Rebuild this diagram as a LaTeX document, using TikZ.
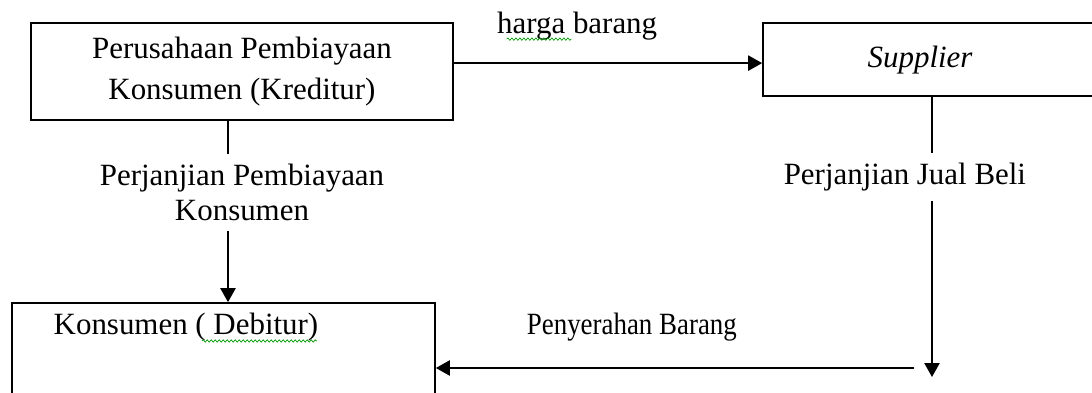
\documentclass[tikz,border=0pt]{standalone}
\usepackage{fontspec}
\setmainfont{Liberation Serif}
\usetikzlibrary{positioning,arrows.meta,decorations.pathmorphing}

\begin{document}
\begin{tikzpicture}[font=\fontsize{22}{25}\selectfont,
      box/.style={draw, line width=1.2pt, inner sep=0pt},
      arr/.style={line width=1.2pt, -{Triangle[length=3.5mm, width=3.8mm]}},
      lbl/.style={fill=white, inner sep=2.5mm, align=center},
      wavy/.style={draw=green!60!black, line width=0.5pt, decorate,
          decoration={snake, amplitude=0.3mm, segment length=1mm}}]

      \useasboundingbox (0,0) rectangle (27.3,9.8);

      % Finance company
      \node(kreditur)[box, minimum width=10.55cm, minimum height=2.425cm, align=center,
          font=\fontsize{22}{29}\selectfont] at (6.05,8.0125)
          {Perusahaan Pembiayaan\\Konsumen (Kreditur)};

      % Supplier, cut by the right edge
      \node(supplier)[box, minimum width=8.675cm, minimum height=1.825cm] at (23.4125,8.3125) {};
      \node(supplierlbl)[anchor=base] at ([xshift=-4.1mm, yshift=-2.1mm]supplier.center) {\textit{Supplier}};

      % Consumer, cut by the bottom edge
      \node(debitur)[box, minimum width=10.575cm, minimum height=3.175cm] at (5.5875,0.6375) {};
      \node(debiturlbl)[anchor=base west] at ([xshift=9.4mm, yshift=-8.2mm]debitur.north west) {Konsumen ( Debitur)};

      % Price of goods
      \draw[arr] ([yshift=2.1mm]kreditur.east) -- ([yshift=2.1mm]kreditur.east -| supplier.west)
          node(harga)[pos=0.4, anchor=base, yshift=7.5mm] {harga barang};

      % Financing agreement
      \draw[arr] ([xshift=-3.5mm]kreditur.south) -- ([xshift=-3.5mm]kreditur.south |- debitur.north);
      \node(pembiayaan)[lbl, below=8.25mm of kreditur] {Perjanjian Pembiayaan\\Konsumen};

      % Sale agreement and delivery
      \coordinate(jualend) at (23.3,0.375);
      \coordinate(serahstart) at (22.85,0.6);
      \draw[arr] (jualend |- supplier.south) -- (jualend);
      \node(jualbeli)[lbl, below=14mm of supplier, xshift=-7.9mm] {Perjanjian Jual Beli};
      \draw[arr] (serahstart) -- (serahstart -| debitur.east)
          node(serah)[pos=0.59, anchor=base, yshift=8.5mm] {\scalebox{0.87}[1]{Penyerahan Barang}};

      % Spelling marks
      \draw[wavy] ([xshift=3.75mm, yshift=-1.5mm]harga.base west) -- ++(1.625,0);
      \draw[wavy] ([xshift=38.3mm, yshift=-1.5mm]debiturlbl.base west) -- ++(2.875,0);

\end{tikzpicture}
\end{document}
